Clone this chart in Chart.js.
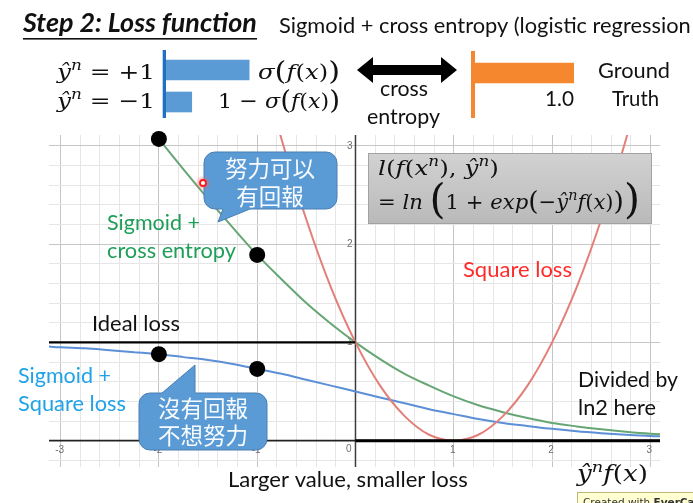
<!DOCTYPE html>
<html><head><meta charset="utf-8">
<script src="https://cdn.jsdelivr.net/npm/chart.js@4.4.1/dist/chart.umd.min.js"></script>
<style>
html,body{margin:0;padding:0;background:#fff;overflow:hidden}
#slide{position:relative;width:693px;height:503px;overflow:hidden;background:#fff}
canvas{position:absolute;display:block}
</style></head><body>
<div id="slide">
<canvas id="lossChart" width="693" height="503" style="left:0;top:0"></canvas>
<canvas id="probBars" width="103" height="68" style="left:162px;top:50px"></canvas>
<canvas id="truthBar" width="103" height="67" style="left:471px;top:51px"></canvas>
</div>
<script>
// Sigmoid + cross entropy (divided by ln2): sampled ŷⁿf(x) and loss
const ceX    = [-2.1, -2, -1.75, -1.5, -1.25, -1, -0.75, -0.5, -0.25, 0, 0.25, 0.5, 0.75, 1, 1.25, 1.5, 1.75, 2, 2.25, 2.5, 2.75, 3, 3.15];
const ceLoss = [3.20, 3.07, 2.76, 2.46, 2.17, 1.89, 1.64, 1.40, 1.19, 1.00, 0.83, 0.68, 0.56, 0.45, 0.36, 0.29, 0.23, 0.18, 0.145, 0.115, 0.09, 0.07, 0.063];

// Square loss
const sqX    = [-0.8, -0.75, -0.5, -0.25, 0, 0.25, 0.5, 0.75, 1, 1.25, 1.5, 1.75, 2, 2.25, 2.5, 2.75, 2.8];
const sqLoss = [3.24, 3.06, 2.25, 1.56, 1.00, 0.56, 0.25, 0.06, 0, 0.06, 0.25, 0.56, 1.00, 1.56, 2.25, 3.06, 3.24];

// Sigmoid + square loss
const ssX    = [-3.15, -3, -2.75, -2.5, -2.25, -2, -1.75, -1.5, -1.25, -1, -0.75, -0.5, -0.25, 0, 0.25, 0.5, 0.75, 1, 1.25, 1.5, 1.75, 2, 2.25, 2.5, 2.75, 3, 3.15];
const ssLoss = [0.96, 0.95, 0.94, 0.92, 0.90, 0.88, 0.85, 0.82, 0.78, 0.73, 0.68, 0.62, 0.56, 0.50, 0.44, 0.38, 0.32, 0.27, 0.22, 0.18, 0.15, 0.12, 0.095, 0.076, 0.06, 0.047, 0.043];

// Ideal (step) loss
const idealX    = [-3.3, 0, 0, 3.3];
const idealLoss = [1, 1, 0, 0];

// Highlighted points
const dotX = [-2, -1, -2, -1];
const dotY = [3.07, 1.89, 0.88, 0.73];

// Axis tick labels
const xTicks = [-3, -2, -1, 0, 1, 2, 3];
const xTickLabels = ['-3', '-2', '-1', '0', '1', '2', '3'];
const yTicks = [1, 2, 3];
const yTickLabels = ['1', '2', '3'];

// Output bars: ŷⁿ = +1 → σ(f(x)), ŷⁿ = −1 → 1 − σ(f(x))
const outcomes = ['ŷⁿ = +1', 'ŷⁿ = −1'];
const outcomeProb = [0.84, 0.26];
// Ground truth bar
const truthLabels = ['Ground Truth'];
const truthValue = [1.0];

const SANS = '"Lato", "Open Sans", sans-serif';
const SERIF = '"DejaVu Serif", "Liberation Serif", serif';
const CJK = '"Noto Sans CJK TC", "Noto Sans CJK SC", sans-serif';

const gridX = []; for (let i = -15; i <= 15; i++) gridX.push(i / 5);
const gridY = []; for (let i = -1; i <= 15; i++) gridY.push(i / 5);

const pts = (xs, ys) => xs.map((x, i) => ({ x, y: ys[i] }));
const isMajor = v => Math.abs(v - Math.round(v)) < 1e-6;

function fitText(ctx, str, x, y, w, opts = {}) {
  const fam = opts.family || SANS;
  const st = opts.style || '';
  ctx.font = `${st} 20px ${fam}`;
  const size = 20 * w / ctx.measureText(str).width;
  ctx.font = `${st} ${size}px ${fam}`;
  ctx.fillStyle = opts.color || '#111';
  ctx.textAlign = 'left';
  ctx.textBaseline = 'alphabetic';
  ctx.fillText(str, x, y);
}

// math runs: [text, flags]; i = italic, u = superscript, B = tall paren, b = medium paren
// drawn at a fixed size and stretched horizontally to the given width
function mathRuns(ctx, parts, x, y, w, base, color) {
  const spec = parts.map(([t, f = '']) => {
    let s = 1, dy = 0;
    if (f.includes('u')) { s = 0.68; dy = -0.42; }
    if (f.includes('B')) { s = 1.95; dy = 0.19; }
    if (f.includes('b')) { s = 1.25; dy = 0.03; }
    return { t, it: f.includes('i'), s, dy };
  });
  const fontOf = p => `${p.it ? 'italic ' : ''}${base * p.s}px ${SERIF}`;
  const total = spec.reduce((acc, p) => { ctx.font = fontOf(p); return acc + ctx.measureText(p.t).width; }, 0);
  ctx.save();
  ctx.translate(x, y);
  ctx.scale(w / total, 1);
  ctx.fillStyle = color || '#111';
  ctx.textAlign = 'left';
  ctx.textBaseline = 'alphabetic';
  let cx = 0;
  for (const p of spec) {
    ctx.font = fontOf(p);
    ctx.fillText(p.t, cx, p.dy * base);
    cx += ctx.measureText(p.t).width;
  }
  ctx.restore();
}

function bubble(ctx, x0, y0, x1, y1, r, tail, tailSide) {
  ctx.beginPath();
  ctx.moveTo(x0 + r, y0);
  if (tailSide === 'top') { ctx.lineTo(tail[0][0], y0); ctx.lineTo(tail[1][0], tail[1][1]); ctx.lineTo(tail[2][0], y0); }
  ctx.lineTo(x1 - r, y0);
  ctx.arcTo(x1, y0, x1, y0 + r, r);
  ctx.lineTo(x1, y1 - r);
  ctx.arcTo(x1, y1, x1 - r, y1, r);
  if (tailSide === 'bottom') { ctx.lineTo(tail[0][0], y1); ctx.lineTo(tail[1][0], tail[1][1]); ctx.lineTo(tail[2][0], y1); }
  ctx.lineTo(x0 + r, y1);
  ctx.arcTo(x0, y1, x0, y1 - r, r);
  ctx.lineTo(x0, y0 + r);
  ctx.arcTo(x0, y0, x0 + r, y0, r);
  ctx.closePath();
  ctx.fillStyle = '#5b9bd5';
  ctx.fill();
  ctx.strokeStyle = '#4a7fb3';
  ctx.lineWidth = 1;
  ctx.stroke();
}

const slidePlugin = {
  id: 'slide',
  beforeDraw(chart) {
    const c = chart.ctx;
    c.save(); c.fillStyle = '#fff'; c.fillRect(0, 0, chart.width, chart.height); c.restore();
  },
  beforeDatasetsDraw(chart) {
    const c = chart.ctx, xs = chart.scales.x, ys = chart.scales.y, a = chart.chartArea;
    const x0 = xs.getPixelForValue(0), y0 = ys.getPixelForValue(0);
    c.save();
    c.strokeStyle = '#3c3c3c'; c.lineWidth = 1.5;
    c.beginPath(); c.moveTo(x0, a.top); c.lineTo(x0, a.bottom); c.stroke();
    c.strokeStyle = '#222'; c.lineWidth = 1.6;
    c.beginPath(); c.moveTo(a.left, y0); c.lineTo(a.right, y0); c.stroke();
    c.font = '10px "Liberation Sans", sans-serif';
    c.fillStyle = '#6e6e6e';
    c.textBaseline = 'middle';
    xTicks.forEach((v, i) => {
      if (v === 0) { c.textAlign = 'right'; c.fillText(xTickLabels[i], x0 - 4, y0 + 9); return; }
      c.textAlign = 'center';
      c.fillText(xTickLabels[i], xs.getPixelForValue(v) - 1, y0 + 9.5);
    });
    c.textAlign = 'right';
    yTicks.forEach((v, i) => c.fillText(yTickLabels[i], x0 - 3, ys.getPixelForValue(v)));
    c.restore();
  },
  afterDraw(chart) {
    const c = chart.ctx;
    c.save();
    // heading
    fitText(c, 'Step 2: Loss function', 23, 32, 234, { style: 'italic bold', color: '#111' });
    c.fillStyle = '#111'; c.fillRect(23, 38, 234, 1.6);
    fitText(c, 'Sigmoid + cross entropy (logistic regression', 279, 33, 412, { color: '#111' });

    // output / ground-truth header
    mathRuns(c, [['ŷ', 'i'], ['n', 'iu'], [' = +1']], 57, 79, 98, 21);
    mathRuns(c, [['ŷ', 'i'], ['n', 'iu'], [' = −1']], 57, 108, 98, 21);
    mathRuns(c, [['σ', 'i'], ['(', 'b'], ['f', 'i'], ['('], ['x', 'i'], [')'], [')', 'b']], 258, 79, 82, 21);
    mathRuns(c, [['1 − '], ['σ', 'i'], ['(', 'b'], ['f', 'i'], ['('], ['x', 'i'], [')'], [')', 'b']], 218, 108, 122, 21);

    c.fillStyle = '#000';
    c.beginPath();
    [[357, 70], [373, 57], [373, 65], [441, 65], [441, 57], [457, 70], [441, 83], [441, 75], [373, 75], [373, 83]]
      .forEach(([px, py], i) => i ? c.lineTo(px, py) : c.moveTo(px, py));
    c.closePath(); c.fill();
    fitText(c, 'cross', 380, 96, 48);
    fitText(c, 'entropy', 367, 124, 73);
    fitText(c, '1.0', 545, 106, 29);
    fitText(c, 'Ground', 598, 78, 72);
    fitText(c, 'Truth', 612, 106, 47);

    // curve labels
    fitText(c, 'Sigmoid +', 107, 230, 93, { color: '#1e9e58' });
    fitText(c, 'cross entropy', 107, 258, 129, { color: '#1e9e58' });
    fitText(c, 'Square loss', 463, 277, 109, { color: '#ff2b2b' });
    fitText(c, 'Ideal loss', 92, 331, 88, { color: '#111' });
    fitText(c, 'Sigmoid +', 18, 383, 93, { color: '#1fa2e8' });
    fitText(c, 'Square loss', 18, 411, 108, { color: '#1fa2e8' });
    fitText(c, 'Divided by', 578, 387, 100, { color: '#111' });
    fitText(c, 'ln2 here', 578, 415, 78, { color: '#111' });
    fitText(c, 'Larger value, smaller loss', 228, 487, 240, { color: '#111' });
    mathRuns(c, [['ŷ', 'i'], ['n', 'iu'], ['f', 'i'], ['('], ['x', 'i'], [')']], 577, 481, 71, 22);

    // loss formula box
    const g = c.createLinearGradient(0, 153, 0, 224);
    g.addColorStop(0, '#d2d2d2'); g.addColorStop(1, '#b9b9b9');
    c.fillStyle = g; c.fillRect(368, 153, 284, 71);
    c.strokeStyle = '#a2a2a2'; c.lineWidth = 1; c.strokeRect(368.5, 153.5, 283, 70);
    mathRuns(c, [['l', 'i'], ['('], ['f', 'i'], ['('], ['x', 'i'], ['n', 'iu'], ['), '], ['ŷ', 'i'], ['n', 'iu'], [')']], 378, 175, 121, 21);
    mathRuns(c, [['= '], ['ln', 'i'], [' '], ['(', 'B'], ['1 + '], ['exp', 'i'], ['(', 'b'], ['−'], ['ŷ', 'i'], ['n', 'iu'], ['f', 'i'], ['('], ['x', 'i'], [')'], [')', 'b'], [')', 'B']], 378, 209, 262, 21);

    // speech bubbles
    bubble(c, 204, 152, 337, 209, 11, [[250], [218, 222], [223]], 'bottom');
    bubble(c, 139, 393, 267, 450, 11, [[162], [195, 365], [195]], 'top');
    c.fillStyle = 'rgba(255,255,255,0.96)';
    c.font = `22.5px ${CJK}`;
    c.textAlign = 'center'; c.textBaseline = 'middle';
    c.fillText('努力可以', 270, 168);
    c.fillText('有回報', 270, 196);
    c.fillText('沒有回報', 203, 408);
    c.fillText('不想努力', 203, 435);

    // pointer
    const rg = c.createRadialGradient(203, 183, 2, 203, 183, 8);
    rg.addColorStop(0, 'rgba(255,90,90,0.55)'); rg.addColorStop(1, 'rgba(255,90,90,0)');
    c.fillStyle = rg; c.beginPath(); c.arc(203, 183, 8, 0, Math.PI * 2); c.fill();
    c.fillStyle = '#fff'; c.strokeStyle = '#ff1a1a'; c.lineWidth = 1.8;
    c.beginPath(); c.arc(203, 183, 3, 0, Math.PI * 2); c.fill(); c.stroke();

    // recorder badge
    c.fillStyle = '#ffffd2'; c.fillRect(577, 492.5, 130, 20);
    c.strokeStyle = '#bdb77e'; c.lineWidth = 1; c.strokeRect(577.5, 492.5, 130, 20);
    c.fillStyle = '#333'; c.textAlign = 'left'; c.textBaseline = 'alphabetic';
    c.font = '10.5px "DejaVu Sans", sans-serif';
    c.fillText('Created with ', 583, 506);
    const wcw = c.measureText('Created with ').width;
    c.font = 'bold 10.5px "DejaVu Sans", sans-serif';
    c.fillText('EverCam', 583 + wcw, 506);
    c.restore();
  }
};

function build() {
  const gridColor = ctx => {
    const v = ctx.tick ? ctx.tick.value : 0;
    return isMajor(v) ? '#c6c6c6' : '#e6e6e6';
  };
  new Chart(document.getElementById('lossChart'), {
    type: 'scatter',
    data: {
      datasets: [
        { label: 'points', data: pts(dotX, dotY), pointRadius: 8, pointBackgroundColor: '#000', pointBorderWidth: 0, clip: false },
        { label: 'Ideal loss', data: pts(idealX, idealLoss), showLine: true, pointRadius: 0, borderColor: '#000', borderWidth: 2.4,
          segment: {
            borderColor: s => s.p0.parsed.x === s.p1.parsed.x ? 'rgba(0,0,0,0)' : '#000',
            borderWidth: s => s.p0.parsed.y === 0 ? 3 : 2.2
          } },
        { label: 'Square loss', data: pts(sqX, sqLoss), showLine: true, pointRadius: 0, borderColor: '#e27f79', borderWidth: 2, cubicInterpolationMode: 'monotone' },
        { label: 'Sigmoid + cross entropy', data: pts(ceX, ceLoss), showLine: true, pointRadius: 0, borderColor: '#66a675', borderWidth: 2, cubicInterpolationMode: 'monotone' },
        { label: 'Sigmoid + Square loss', data: pts(ssX, ssLoss), showLine: true, pointRadius: 0, borderColor: '#5b8fd6', borderWidth: 2, cubicInterpolationMode: 'monotone' }
      ]
    },
    options: {
      responsive: false, animation: false, devicePixelRatio: 1, events: [],
      layout: { padding: { left: 49, right: 33, top: 135, bottom: 36 } },
      elements: { line: { capBezierPoints: false } },
      scales: {
        x: { type: 'linear', min: -3.118, max: 3.098,
             afterBuildTicks: s => { s.ticks = gridX.map(v => ({ value: v })); },
             afterFit: s => { s.height = 0; },
             ticks: { display: false }, border: { display: false },
             grid: { color: gridColor, lineWidth: 1, drawTicks: false } },
        y: { type: 'linear', min: -0.268, max: 3.11,
             afterBuildTicks: s => { s.ticks = gridY.map(v => ({ value: v })); },
             afterFit: s => { s.width = 0; },
             ticks: { display: false }, border: { display: false },
             grid: { color: gridColor, lineWidth: 1, drawTicks: false } }
      },
      plugins: { legend: { display: false }, tooltip: { enabled: false } }
    },
    plugins: [slidePlugin]
  });

  const stub = (color, w) => ({
    id: 'stub',
    afterDatasetsDraw(chart) {
      const c = chart.ctx;
      c.save(); c.fillStyle = color; c.fillRect(chart.chartArea.left - w, 0, w, chart.height); c.restore();
    }
  });
  const barOpts = pad => ({
    indexAxis: 'y', responsive: false, animation: false, devicePixelRatio: 1, events: [],
    layout: { padding: pad },
    scales: { x: { display: false, min: 0, max: 1 }, y: { display: false } },
    plugins: { legend: { display: false }, tooltip: { enabled: false } }
  });
  new Chart(document.getElementById('probBars'), {
    type: 'bar',
    data: { labels: outcomes, datasets: [{ data: outcomeProb, backgroundColor: '#5b9bd5', barThickness: 20 }] },
    options: barOpts({ left: 4, top: 4 }),
    plugins: [stub('#1f6fc2', 3.3)]
  });
  new Chart(document.getElementById('truthBar'), {
    type: 'bar',
    data: { labels: truthLabels, datasets: [{ data: truthValue, backgroundColor: '#f5882f', barThickness: 20 }] },
    options: barOpts({ left: 4, bottom: 23 }),
    plugins: [stub('#f5882f', 4)]
  });
}

const fontsReady = document.fonts && document.fonts.load
  ? Promise.all([
      document.fonts.load(`20px ${SANS}`), document.fonts.load(`italic bold 20px ${SANS}`),
      document.fonts.load(`italic 20px ${SERIF}`), document.fonts.load(`20px ${SERIF}`),
      document.fonts.load(`20px ${CJK}`, '努力可以有回報沒不想')
    ]).catch(() => {})
  : Promise.resolve();
fontsReady.then(build);
</script>
</body></html>
